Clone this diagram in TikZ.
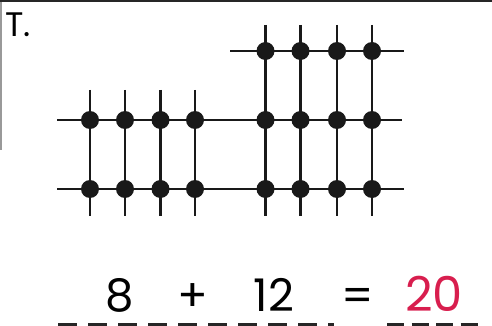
\documentclass[tikz,border=0pt]{standalone}
\usepackage{fontspec}
\setmainfont{Poppins}
\definecolor{pen}{HTML}{D81E4E}
\begin{document}
\begin{tikzpicture}[x=1pt,y=-1pt,
  line/.style={line width=2.2pt,black!90},
  bead/.style={circle,fill=black!90,inner sep=0pt,minimum size=18pt},
  eqtext/.style={font=\fontsize{45}{48}\selectfont,inner sep=0pt,anchor=base},
  blank/.style={line width=3pt,black!85}]
\useasboundingbox (0,0) rectangle (492,326);
% frame edges
\draw[line width=3pt,black!85] (0,1) -- (492,1);
\draw[line width=1.5pt,black!40] (1,2) -- (1,150);
% label
\node[anchor=base west,inner sep=0pt,font=\fontsize{34}{38}\selectfont] (lab) at (5,37) {T.};
% left block verticals
\foreach \c/\x in {1/90,2/125,3/160.5,4/195}{
  \coordinate (Lt\c) at (\x,90);
  \coordinate (Lb\c) at (\x,216);
  \draw[line] (Lt\c) -- (Lb\c);
}
% right block verticals
\foreach \c/\x in {1/265.5,2/300.5,3/337,4/372}{
  \coordinate (Rt\c) at (\x,25);
  \coordinate (Rb\c) at (\x,216);
  \draw[line] (Rt\c) -- (Rb\c);
}
% horizontals
\coordinate (h1a) at (230,51);  \coordinate (h1b) at (404,51);
\coordinate (h2a) at (57,120);  \coordinate (h2b) at (402,120);
\coordinate (h3a) at (57,189);  \coordinate (h3b) at (404,189);
\draw[line] (h1a) -- (h1b);
\draw[line] (h2a) -- (h2b);
\draw[line] (h3a) -- (h3b);
% beads
\foreach \c/\x in {1/90,2/125,3/160.5,4/195}{
  \node[bead] (L\c a) at (\x,120) {};
  \node[bead] (L\c b) at (\x,189) {};
}
\foreach \c/\x in {1/265.5,2/300.5,3/337,4/372}{
  \node[bead] (R\c a) at (\x,51) {};
  \node[bead] (R\c b) at (\x,120) {};
  \node[bead] (R\c c) at (\x,189) {};
}
% equation
\node[eqtext] (n8) at (119.5,311) {8};
\node[eqtext] (plus) at (193,311) {+};
\node[eqtext] (n12) at (274,311) {12};
\node[eqtext] (eq) at (357.5,311) {=};
\node[eqtext,text=pen,font=\fontsize{48}{52}\selectfont] (ans) at (434,311) {20};
% blanks
\coordinate (d1a) at (58,324); \coordinate (d1b) at (334,324);
\coordinate (d2a) at (387,324); \coordinate (d2b) at (478,324);
\draw[blank,dash pattern=on 19pt off 11pt] (d1a) -- (d1b);
\draw[blank,dash pattern=on 17pt off 7.5pt] (d2a) -- (d2b);
\end{tikzpicture}
\end{document}
